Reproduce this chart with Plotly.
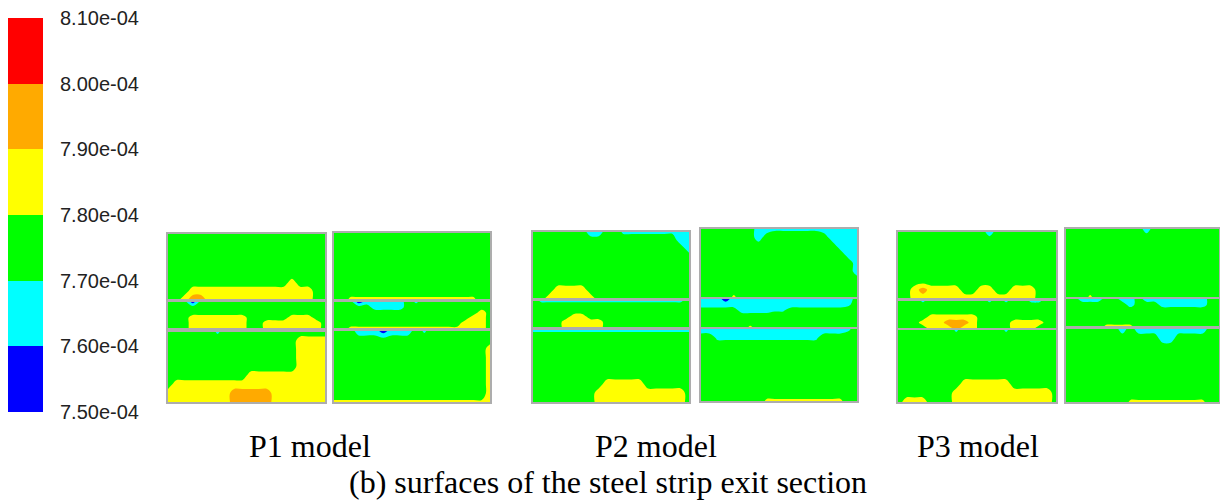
import plotly.graph_objects as go

# ---------------- data ----------------
LEVELS = [7.50e-4, 7.60e-4, 7.70e-4, 7.80e-4, 7.90e-4, 8.00e-4, 8.10e-4]
TICK_LABELS = ["7.50e-04", "7.60e-04", "7.70e-04", "7.80e-04", "7.90e-04", "8.00e-04", "8.10e-04"]
BAND_COLORS = ["#0000ff", "#00ffff", "#00ff00", "#ffff00", "#ffaa00", "#ff0000"]
# value of each field code (c / y = values just past a band edge, for thin layers)
BAND_VALUES = {"B": 7.55e-4, "C": 7.65e-4, "c": 7.685e-4, "G": 7.75e-4,
               "y": 7.815e-4, "Y": 7.85e-4, "O": 7.95e-4, "R": 8.05e-4}

MODEL_LABELS = ["P1 model", "P2 model", "P3 model"]
CAPTION = "(b) surfaces of the steel strip exit section"

# field samples (rows top->bottom, 20 columns left->right)
P1L_TOP = [
    "GGGGGGGGGGGGGGGGGGGG",
    "GGGGGGGGGGGGGGGGGGGG",
    "GGGGGGGGGGGGGGGGGGGG",
    "GGGGGGGGGGGGGGGGGGGG",
    "GGGGGGGGGGGGGGGGGGGG",
    "GGGGGGGGGGGGGGGGGGGG",
    "GGGGGGGGGGGGGGGYGGGG",
    "GGGYYYYYYYYYYYYYYYGG",
    "GGYOOYYYYYYYYYYYYYGG",
]
P1L_MID = [
    "GGGBGGGGGGGGGGGGGGGG",
    "GGGGGGGGGGGGGGGGGGGG",
    "GGGGGGGGGGGGGGGGGGGG",
    "GGGYYYYYYYGGGGGYYYGG",
    "GGGYYYYYYYGGYYYYYYYG",
    "GGGYYYYYYYGGYYYYYYYG",
]
P1L_BOT = [
    "GGGGGGcGGGGGGGGGGGGG",
    "GGGGGGGGGGGGGGGGYYYY",
    "GGGGGGGGGGGGGGGGYYYY",
    "GGGGGGGGGGGGGGGGYYYY",
    "GGGGGGGGGGGGGGGGYYYY",
    "GGGGGGGGGGYYYYYYYYYY",
    "GYYYYYYYYYYYYYYYYYYY",
    "YYYYYYYYOOOOOYYYYYYY",
    "YYYYYYYYOOOOOYYYYYYY",
]
P1R_TOP = [
    "GGGGGGGGGGGGGGGGGGGG",
    "GGGGGGGGGGGGGGGGGGGG",
    "GGGGGGGGGGGGGGGGGGGG",
    "GGGGGGGGGGGGGGGGGGGG",
    "GGGGGGGGGGGGGGGGGGGG",
    "GGGGGGGGGGGGGGGGGGGG",
    "GGGGGGGGGGGGGGGGGGGG",
    "GGGGGGGGGGGGGGGGGGGG",
    "GGyyyyyyyyyyyyyyyyGG",
]
P1R_MID = [
    "GGGBCCCCCGcGGGGGGGGG",
    "GGGGGCCCCGGGGGGGGGGG",
    "GGGGGGGGGGGGGGGGGGYG",
    "GGGGGGGGGGGGGGGGGYYG",
    "GGGGGGGGGGGGGGGGYYYG",
    "GGyyyyyyyyyyyyyyYYYG",
]
P1R_BOT = [
    "GGGCCCBCCCGcGGGGGGGG",
    "GGGGGGGGGGGGGGGGGGGG",
    "GGGGGGGGGGGGGGGGGGGY",
    "GGGGGGGGGGGGGGGGGGGY",
    "GGGGGGGGGGGGGGGGGGGY",
    "GGGGGGGGGGGGGGGGGGGY",
    "GGGGGGGGGGGGGGGGGGGY",
    "GGGGGGGGGGGGGGGGGGGY",
    "yyyyyyyyyyyyyyyyyyyY",
]
P2L_TOP = [
    "GGGGGGGCCGGcccccccCC",
    "GGGGGGGGGGGGGGGGGGCC",
    "GGGGGGGGGGGGGGGGGGGC",
    "GGGGGGGGGGGGGGGGGGGG",
    "GGGGGGGGGGGGGGGGGGGG",
    "GGGGGGGGGGGGGGGGGGGG",
    "GGGGGGGGGGGGGGGGGGGG",
    "GGGYYYYGGGGGGGGGGGGG",
    "GGYYYYYYGGGGGGGGGGGG",
]
P2L_MID = [
    "GccccccccccccccccccG",
    "GGGGGGGGGGGGGGGGGGGG",
    "GGGGGGGGGGGGGGGGGGGG",
    "GGGGGYYGGGGGGGGGGGGG",
    "GGGGYYYYYGGGGGGGGGGG",
    "GGGGYYYYYGGGGGGGGGGG",
]
P2L_BOT = [
    "cccccccccccccccccccc",
    "GGGGGGGGGGGGGGGGGGGG",
    "GGGGGGGGGGGGGGGGGGGG",
    "GGGGGGGGGGGGGGGGGGGG",
    "GGGGGGGGGGGGGGGGGGGG",
    "GGGGGGGGGGGGGGGGGGGG",
    "GGGGGGGGGYYYYYGGGGGG",
    "GGGGGGGGYYYYYYYYYYYG",
    "GGGGGGGGYYYYYYYYYYYG",
]
P2R_TOP = [
    "GGGGGGGCCccccccCCCCC",
    "GGGGGGGCGGGGGGGGCCCC",
    "GGGGGGGGGGGGGGGGGCCC",
    "GGGGGGGGGGGGGGGGGGCC",
    "GGGGGGGGGGGGGGGGGGGC",
    "GGGGGGGGGGGGGGGGGGGC",
    "GGGGGGGGGGGGGGGGGGGG",
    "GGGGGGGGGGGGGGGGGGGG",
    "GGGGyGGGGGGGGGGGGGGG",
]
P2R_MID = [
    "CCCBCCCCCCCCCCCCCCCG",
    "CCCCCCCCCCCCCCCCCCcG",
    "GGGGGCCCCccGGGGGGGGG",
    "GGGGGGGGGGGGGGGGGGGG",
    "GGGGGGGGGGGGGGGGGGGG",
    "GGGGGGyGGGGGGGGGGGGG",
]
P2R_BOT = [
    "CCCCCCCCCCCCCCCCCCcG",
    "GGcccccccccccccGGGGG",
    "GGGGGGGGGGGGGGGGGGGG",
    "GGGGGGGGGGGGGGGGGGGG",
    "GGGGGGGGGGGGGGGGGGGG",
    "GGGGGGGGGGGGGGGGGGGG",
    "GGGGGGGGGGGGGGGGGGGG",
    "GGGGGGGGGGGGGGGGGGGG",
    "GGGGGGGGyyyyyyyyyyGG",
]
P3L_TOP = [
    "GGGGGGGGGGGCGGGGGGGG",
    "GGGGGGGGGGGGGGGGGGGG",
    "GGGGGGGGGGGGGGGGGGGG",
    "GGGGGGGGGGGGGGGGGGGG",
    "GGGGGGGGGGGGGGGGGGGG",
    "GGGGGGGGGGGGGGGGGGGG",
    "GGGGGGGGGGGGGGGGGGGG",
    "GGYOYYYYGGYYGGYYYGGG",
    "GGYYYYYYYYYYYYYYYGGG",
]
P3L_MID = [
    "GGGcGGGGGGGcGcGGccGG",
    "GGGGGGGGGGGGGGGGGGGG",
    "GGGGGGGGGGGGGGGGGGGG",
    "GGGGYYYYYYGGGGGGGGGG",
    "GGGYYYOOOYGGGGYYYYGG",
    "GGGGYYYOYYGGGGYYYGGG",
]
P3L_BOT = [
    "GGGGGGGcGGGGGcGGGGGG",
    "GGGGGGGGGGGGGGGGGGGG",
    "GGGGGGGGGGGGGGGGGGGG",
    "GGGGGGGGGGGGGGGGGGGG",
    "GGGGGGGGGGGGGGGGGGGG",
    "GGGGGGGGGGGGGGGGGGGG",
    "GGGGGGGGYYYYYYGGGGGG",
    "GGGGGGGYYYYYYYYYYYYG",
    "GYYYGGGYYYYYYYYYYYYG",
]
P3R_TOP = [
    "GGGGGGGGGGCGGGGGGGGG",
    "GGGGGGGGGGGGGGGGGGGG",
    "GGGGGGGGGGGGGGGGGGGG",
    "GGGGGGGGGGGGGGGGGGGG",
    "GGGGGGGGGGGGGGGGGGGG",
    "GGGGGGGGGGGGGGGGGGGG",
    "GGGGGGGGGGGGGGGGGGGG",
    "GGGGGGGGGGGGGGGGGGGG",
    "GGGyGGGGGGGGGGGGGGGG",
]
P3R_MID = [
    "GGCCCGGCCGCCCCCCCCGG",
    "GGGGGGGGCGGGCCCCCCGG",
    "GGGGGGGGGGGGGGGGGGGG",
    "GGGGGGGGGGGGGGGGGGGG",
    "GGGGGGGGGGGGGGGGGGGG",
    "GGGGGyyyyGGGGGGGGGGG",
]
P3R_BOT = [
    "GGGGGGGCGCCCCCCCCCGG",
    "GGGGGGGGGGGGCCGGGGGG",
    "GGGGGGGGGGGGGGGGGGGG",
    "GGGGGGGGGGGGGGGGGGGG",
    "GGGGGGGGGGGGGGGGGGGG",
    "GGGGGGGGGGGGGGGGGGGG",
    "GGGGGGGGGGGGGGGGGGGG",
    "GGGGGGGGGGGGGGGGGGGG",
    "GGGGGGGGyyyyyyyyyyGG",
]

PANELS = [
    [P1L_TOP, P1L_MID, P1L_BOT],
    [P1R_TOP, P1R_MID, P1R_BOT],
    [P2L_TOP, P2L_MID, P2L_BOT],
    [P2R_TOP, P2R_MID, P2R_BOT],
    [P3L_TOP, P3L_MID, P3L_BOT],
    [P3R_TOP, P3R_MID, P3R_BOT],
]

# ---------------- layout geometry (pixels) ----------------
W, H = 1220, 500
PANEL_BOXES = [
    (168, 325, [(234, 299), (302, 328), (332, 402)]),
    (334, 490, [(233, 299), (302, 328), (331, 402)]),
    (533, 689, [(232, 298), (301, 327), (330, 402)]),
    (701, 857, [(229, 297), (299, 327), (329, 401)]),
    (898, 1056, [(232, 298), (301, 328), (330, 402)]),
    (1066, 1219, [(229, 297), (299, 326), (329, 402)]),
]
CBAR_BOX = (8, 43, 18, 412)
LABEL_X = [310, 656, 978]
LABEL_Y = 446
CAPTION_X, CAPTION_Y = 608, 482

n = len(BAND_COLORS)
colorscale = []
for i, c in enumerate(BAND_COLORS):
    colorscale.append([i / n, c])
    colorscale.append([(i + 1) / n, c])
ZMIN, ZMAX = LEVELS[0], LEVELS[-1]
STEP = LEVELS[1] - LEVELS[0]

def dx(px):
    return px / W

def dy(py):
    return 1 - py / H

fig = go.Figure()
layout = dict(
    width=W, height=H, autosize=False,
    margin=dict(l=0, r=0, t=0, b=0, pad=0),
    paper_bgcolor="white", plot_bgcolor="white",
    showlegend=False,
)

ax = 0
for (x0, x1, yboxes), grids in zip(PANEL_BOXES, PANELS):
    for (y0, y1), grid in zip(yboxes, grids):
        ax += 1
        sfx = "" if ax == 1 else str(ax)
        z = [[BAND_VALUES[ch] for ch in row] for row in grid]
        fig.add_trace(go.Contour(
            z=z,
            xaxis="x" + sfx, yaxis="y" + sfx,
            colorscale=colorscale, zmin=ZMIN, zmax=ZMAX, zauto=False,
            autocontour=False,
            contours=dict(start=LEVELS[1], end=LEVELS[-2], size=STEP,
                          coloring="fill", showlines=False),
            line=dict(width=0, smoothing=1),
            showscale=False, hoverinfo="skip",
        ))
        ncols = len(grid[0])
        nrows = len(grid)
        common = dict(showgrid=False, zeroline=False, showticklabels=False,
                      ticks="", showline=True, mirror=True, automargin=False,
                      linecolor="#adadad", linewidth=2, fixedrange=True)
        layout["xaxis" + sfx] = dict(domain=[dx(x0), dx(x1)], range=[0, ncols - 1],
                                     anchor="y" + sfx, **common)
        layout["yaxis" + sfx] = dict(domain=[dy(y1), dy(y0)], range=[nrows - 1, 0],
                                     anchor="x" + sfx, **common)

# colour legend bar
ax += 1
sfx = str(ax)
band_centres = [(LEVELS[i] + LEVELS[i + 1]) / 2 for i in range(n)]
fig.add_trace(go.Heatmap(
    z=[[v] for v in band_centres], y=band_centres, x=[0],
    xaxis="x" + sfx, yaxis="y" + sfx,
    colorscale=colorscale, zmin=ZMIN, zmax=ZMAX, showscale=False,
    hoverinfo="skip",
))
cx0, cx1, cy0, cy1 = CBAR_BOX
layout["xaxis" + sfx] = dict(domain=[dx(cx0), dx(cx1)], range=[-0.5, 0.5],
                             showgrid=False, zeroline=False, showticklabels=False,
                             ticks="", showline=False, anchor="y" + sfx, fixedrange=True,
                             automargin=False)
layout["yaxis" + sfx] = dict(domain=[dy(cy1), dy(cy0)], range=[ZMIN, ZMAX],
                             side="right", tickvals=LEVELS, ticktext=TICK_LABELS,
                             ticks="outside", ticklen=12, tickcolor="rgba(0,0,0,0)",
                             tickfont=dict(family="Liberation Sans, Arial", size=20, color="#222222"),
                             showgrid=False, zeroline=False, showline=False,
                             anchor="x" + sfx, fixedrange=True, automargin=False)

annotations = []
for label, lx in zip(MODEL_LABELS, LABEL_X):
    annotations.append(dict(text=label, x=dx(lx), y=dy(LABEL_Y), xref="paper", yref="paper",
                            xanchor="center", yanchor="middle", showarrow=False,
                            font=dict(family="Liberation Serif, Times New Roman", size=32, color="black")))
annotations.append(dict(text=CAPTION, x=dx(CAPTION_X), y=dy(CAPTION_Y), xref="paper", yref="paper",
                        xanchor="center", yanchor="middle", showarrow=False,
                        font=dict(family="Liberation Serif, Times New Roman", size=32, color="black")))
layout["annotations"] = annotations

fig.update_layout(**layout)

POST = (
    "document.documentElement.style.margin='0';"
    "document.documentElement.style.overflow='hidden';"
    "document.body.style.margin='0';"
    "document.body.style.overflow='hidden';"
)
fig.write_html("out.html", post_script=POST, config={"displayModeBar": False, "staticPlot": True})
